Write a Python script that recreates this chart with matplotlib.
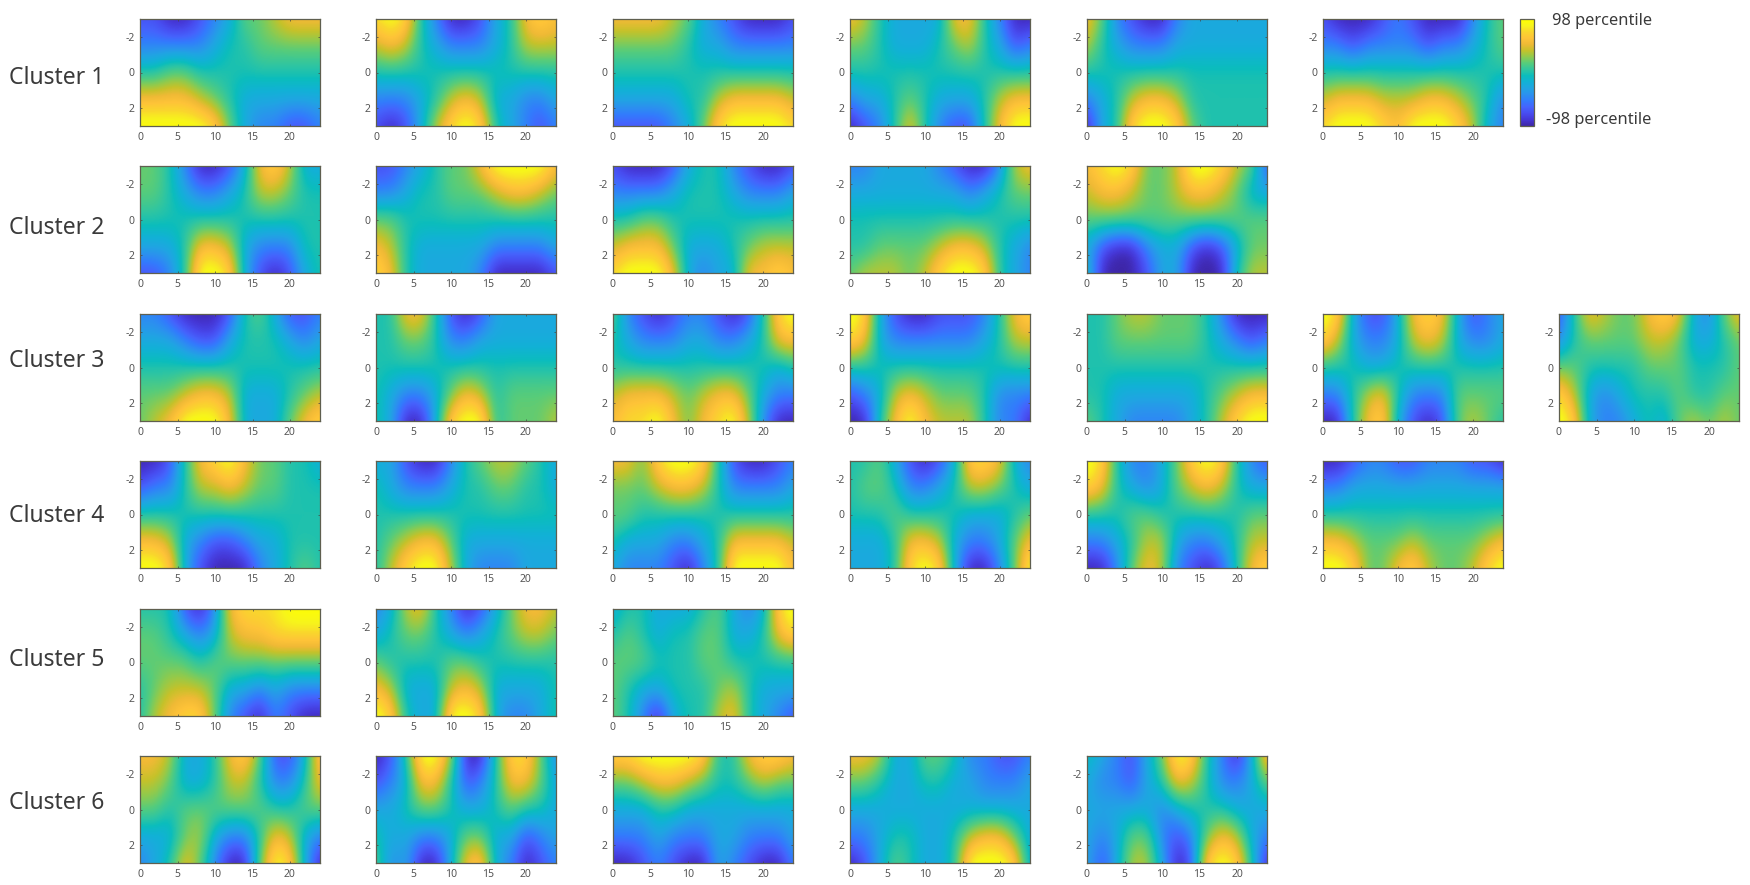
import matplotlib
matplotlib.use("Agg")
import matplotlib.pyplot as plt
import numpy as np
from matplotlib.cm import ScalarMappable
from matplotlib.colors import LinearSegmentedColormap, Normalize, TwoSlopeNorm

plt.rcParams["font.family"] = ["Noto Sans", "DejaVu Sans"]
plt.rcParams["axes.unicode_minus"] = False

hours = [0, 2, 4, 6, 8, 10, 12, 14, 16, 18, 20, 22, 24]
levels = [-3, -1.5, 0, 1.5, 3]
x_ticks = [0, 5, 10, 15, 20]
y_ticks = [-2, 0, 2]

# panel values on a 0 (dark) to 9 (yellow) scale
cluster1 = [
    [[1,1,0,0,1,2,3,5,5,6,7,7,7],
     [2,2,2,2,2,3,4,4,5,5,5,5,5],
     [4,4,5,5,4,4,4,4,4,4,4,4,4],
     [7,7,7,7,6,5,4,3,3,3,3,3,3],
     [9,9,9,9,9,8,5,3,2,2,1,1,2]],
    [[8,9,8,4,2,0,0,1,3,4,7,8,7],
     [6,7,6,4,3,2,2,2,3,4,6,6,6],
     [4,4,4,4,4,4,4,4,4,4,4,4,4],
     [2,2,2,3,4,6,7,6,3,3,2,2,3],
     [1,0,1,3,6,8,9,8,4,3,2,1,2]],
    [[7,7,7,7,6,5,3,2,1,0,0,0,1],
     [5,5,5,5,5,4,3,3,2,2,2,2,2],
     [4,4,4,4,4,4,4,4,4,4,4,4,4],
     [3,3,3,3,3,4,4,6,7,7,7,7,6],
     [1,1,1,1,2,3,5,8,9,9,9,9,8]],
    [[7,6,4,3,3,3,3,7,7,4,2,0,0],
     [5,5,4,3,3,3,4,5,6,4,3,1,2],
     [4,4,4,4,4,4,4,4,4,4,4,4,4],
     [2,3,3,4,5,4,3,3,3,4,6,7,7],
     [0,1,2,4,7,4,2,1,1,4,7,9,9]],
    [[7,5,2,1,0,0,2,3,3,3,3,3,3],
     [6,4,3,2,2,2,3,3,3,3,3,3,3],
     [4,4,4,4,4,4,4,4,4,4,4,4,4],
     [2,3,4,6,7,7,6,4,4,4,4,4,4],
     [0,3,4,8,9,9,8,5,4,4,4,4,4]],
    [[1,0,0,0,1,2,1,0,0,0,2,4,5],
     [2,2,1,2,2,2,2,1,2,2,3,4,5],
     [4,4,4,4,4,4,4,4,4,4,4,4,4],
     [6,7,7,7,6,6,6,7,7,6,5,4,2],
     [8,9,9,9,8,7,9,9,9,8,6,3,2]],
]
cluster2 = [
    [[5,5,4,2,0,0,1,3,7,8,6,3,3],
     [5,5,4,3,2,2,3,4,6,6,5,4,4],
     [4,4,4,4,4,4,4,4,4,4,4,4,4],
     [3,3,3,4,7,7,6,3,2,2,2,4,4],
     [1,1,2,4,9,9,8,3,1,0,1,3,4]],
    [[1,1,2,3,4,5,5,7,9,9,9,9,7],
     [2,2,3,4,4,5,5,5,6,7,7,6,5],
     [5,5,4,4,4,4,4,4,4,4,4,4,4],
     [7,6,4,3,3,3,3,3,2,2,2,2,3],
     [8,7,4,3,3,3,3,2,0,0,0,0,1]],
    [[1,0,0,0,1,3,4,4,2,1,0,0,1],
     [2,2,2,2,3,4,4,4,3,2,2,2,3],
     [4,4,5,5,4,4,4,4,4,4,4,4,4],
     [6,7,7,7,5,3,3,3,4,5,6,6,6],
     [8,9,9,9,7,3,2,3,3,7,7,8,7]],
    [[2,2,3,3,3,3,2,1,0,0,2,6,7],
     [3,3,3,3,3,3,3,3,2,3,4,5,5],
     [4,4,4,4,4,4,4,4,4,4,4,4,4],
     [4,4,5,5,5,5,6,7,7,6,4,3,2],
     [5,6,6,6,5,6,8,9,9,8,4,3,2]],
    [[7,8,9,8,5,5,6,9,9,8,6,5,1],
     [6,7,7,6,5,5,6,7,7,6,5,3,3],
     [5,5,5,5,5,5,5,5,5,5,5,5,5],
     [3,1,0,0,2,3,3,1,0,1,3,5,5],
     [4,0,0,0,1,3,3,0,0,0,4,6,6]],
]
cluster3 = [
    [[2,2,1,0,0,0,1,4,5,3,1,1,2],
     [3,3,3,2,1,1,3,4,4,4,3,2,3],
     [4,4,4,4,4,4,4,4,4,4,4,4,4],
     [5,5,5,6,7,7,6,3,3,3,4,5,6],
     [5,6,7,9,9,9,7,3,3,3,5,7,8]],
    [[4,4,7,7,4,1,0,1,3,3,3,3,3],
     [4,4,5,5,4,2,2,3,3,3,3,3,3],
     [4,4,4,4,4,4,4,4,4,4,4,4,4],
     [4,3,2,2,3,5,7,6,4,5,5,5,5],
     [4,3,0,0,3,8,9,9,4,5,5,5,6]],
    [[5,2,1,0,1,2,2,1,0,1,4,8,9],
     [4,3,2,2,2,3,3,2,2,3,4,7,7],
     [4,4,4,4,4,4,4,4,4,4,4,3,4],
     [6,7,7,7,6,5,6,7,7,5,3,2,2],
     [7,8,8,9,7,5,7,8,9,6,2,0,0]],
    [[9,8,3,1,0,0,1,1,1,2,4,7,8],
     [8,7,3,2,2,2,2,2,2,3,4,6,6],
     [4,4,4,4,4,4,4,4,4,4,4,4,4],
     [1,2,3,6,7,6,5,5,5,4,2,2,2],
     [0,0,4,7,9,7,6,6,6,4,2,2,0]],
    [[4,4,5,6,6,5,5,5,4,2,0,0,0],
     [4,4,5,5,5,5,5,5,4,3,2,1,2],
     [4,4,4,4,4,4,4,4,4,4,4,4,4],
     [4,4,3,3,3,3,3,3,4,5,6,7,7],
     [5,4,3,2,2,2,2,3,4,6,8,9,9]],
    [[9,8,3,1,1,3,7,8,7,3,1,2,3],
     [8,6,3,2,2,3,6,7,6,3,2,2,3],
     [4,4,4,3,3,4,4,4,4,4,4,4,4],
     [2,2,4,6,7,4,2,2,2,5,5,5,5],
     [0,0,4,7,8,3,1,0,1,5,6,5,4]],
    [[1,4,7,6,5,5,7,8,7,3,2,5,7],
     [2,4,5,5,5,5,6,6,5,3,3,4,5],
     [5,5,4,4,4,4,5,5,5,4,4,4,5],
     [8,6,3,2,3,4,4,4,5,4,4,5,5],
     [9,8,3,2,2,3,4,3,5,6,5,6,5]],
]
cluster4 = [
    [[0,0,1,4,7,8,9,7,5,5,4,4,3],
     [1,2,2,4,6,6,7,6,5,5,4,4,4],
     [4,4,4,4,4,4,4,4,4,4,4,4,4],
     [7,7,6,3,2,1,1,2,3,3,4,4,4],
     [9,9,8,3,1,0,0,0,2,3,4,5,4]],
    [[3,3,1,0,0,2,4,5,6,6,5,4,3],
     [4,3,2,2,2,3,4,4,5,5,4,4,3],
     [4,4,4,4,4,4,4,4,4,4,4,4,4],
     [4,5,6,7,7,5,3,3,3,3,3,3,3],
     [4,6,8,9,9,6,3,2,2,2,3,3,3]],
    [[7,7,5,8,9,9,8,4,1,0,0,1,2],
     [5,5,5,6,7,7,6,4,2,2,2,2,3],
     [5,5,4,4,4,4,4,4,4,4,4,4,4],
     [4,3,3,3,2,2,3,4,7,7,7,7,6],
     [3,2,2,2,1,0,2,4,9,9,9,9,7]],
    [[4,4,5,3,1,0,1,3,8,8,7,3,2],
     [4,5,5,4,2,2,3,4,6,6,5,4,3],
     [4,4,4,5,4,4,4,4,3,3,3,4,5],
     [3,3,3,4,7,7,6,3,2,2,3,5,7],
     [3,3,3,4,8,9,8,3,0,0,2,5,9]],
    [[9,8,4,2,2,3,5,8,9,8,4,2,1],
     [8,7,4,3,2,3,5,6,7,6,4,3,3],
     [4,4,4,5,5,4,4,4,4,4,4,5,5],
     [2,2,3,4,6,6,3,2,2,3,4,6,6],
     [0,0,2,5,7,6,2,1,0,1,4,7,8]],
    [[0,0,1,2,2,1,1,2,2,2,1,1,0],
     [2,2,3,3,3,3,3,3,3,3,3,3,3],
     [4,4,4,4,4,4,4,4,4,4,4,4,4],
     [7,7,6,5,5,5,6,5,5,5,5,6,7],
     [9,9,8,5,5,7,8,6,5,5,6,8,9]],
]
cluster5 = [
    [[4,4,4,1,0,2,7,8,8,8,9,9,9],
     [5,5,4,3,2,3,6,7,7,8,8,8,8],
     [5,5,5,5,4,5,5,5,5,5,5,5,5],
     [4,5,6,6,6,5,3,3,2,3,2,2,2],
     [4,6,7,8,8,5,2,1,0,2,1,0,0]],
    [[2,3,6,7,4,2,0,1,3,5,7,7,6],
     [3,4,5,5,4,3,2,3,4,5,6,6,5],
     [5,4,4,4,4,5,5,4,4,4,4,4,4],
     [7,6,3,3,3,6,7,6,3,3,3,3,4],
     [9,8,4,3,3,9,9,8,3,2,2,3,4]],
    [[3,4,4,3,3,3,4,5,3,2,3,8,9],
     [4,5,4,3,4,4,5,5,3,3,4,7,8],
     [5,5,5,4,4,4,5,5,4,4,4,4,4],
     [5,4,3,3,4,4,4,5,6,4,3,3,3],
     [5,4,2,0,3,4,4,6,7,4,3,2,1]],
]
cluster6 = [
    [[7,7,6,3,3,4,7,8,5,1,1,3,8],
     [6,6,5,3,3,4,6,6,4,2,2,4,7],
     [5,5,4,5,5,5,5,5,5,4,4,5,5],
     [3,3,3,5,6,3,2,2,4,7,6,3,2],
     [2,3,4,7,5,2,0,0,5,9,8,3,0]],
    [[0,1,4,9,9,6,0,0,4,8,8,5,2],
     [1,2,3,7,7,4,1,2,4,7,7,5,3],
     [3,3,4,5,5,4,3,3,4,5,4,4,3],
     [4,3,3,2,2,3,5,5,3,3,1,2,3],
     [5,2,3,0,0,3,7,8,3,2,0,1,2]],
    [[8,8,9,9,9,9,8,4,4,7,8,8,7],
     [5,5,6,7,7,6,5,4,4,5,6,5,5],
     [3,3,3,4,4,3,3,3,3,3,3,3,3],
     [2,2,2,3,2,2,2,3,3,2,2,2,3],
     [0,0,1,2,1,0,0,3,2,1,0,0,2]],
    [[7,7,6,3,3,5,5,4,2,2,1,1,2],
     [5,5,4,3,3,4,4,3,3,2,2,2,3],
     [3,3,3,3,3,3,3,3,3,3,3,3,3],
     [2,2,3,4,4,3,3,4,6,7,7,5,3],
     [0,1,3,5,4,3,3,4,9,9,9,8,3]],
    [[4,3,2,1,3,5,9,8,4,2,0,3,8],
     [3,2,2,1,3,4,7,6,4,2,2,3,5],
     [3,3,3,3,3,2,3,4,4,4,3,3,3],
     [3,2,3,5,5,2,1,2,5,7,6,3,2],
     [3,1,3,6,6,3,0,1,8,9,8,4,0]],
]
clusters = [cluster1, cluster2, cluster3, cluster4, cluster5, cluster6]
cluster_names = ["Cluster 1", "Cluster 2", "Cluster 3", "Cluster 4", "Cluster 5", "Cluster 6"]

parula_colors = [
    (0.2422, 0.1504, 0.6603), (0.2706, 0.2147, 0.8364), (0.2813, 0.3006, 0.9414),
    (0.2699, 0.3892, 0.9906), (0.1963, 0.4847, 0.9892), (0.1687, 0.5703, 0.9359),
    (0.1248, 0.6459, 0.8883), (0.0689, 0.6948, 0.8394), (0.0433, 0.7411, 0.7394),
    (0.1938, 0.7758, 0.6251), (0.3406, 0.8008, 0.4789), (0.5616, 0.7942, 0.3045),
    (0.7738, 0.7598, 0.1646), (0.9393, 0.7288, 0.2100), (0.9970, 0.7659, 0.2199),
    (0.9786, 0.8386, 0.1766), (0.9691, 0.9606, 0.1064), (1.0, 1.0, 0.0),
]
parula = LinearSegmentedColormap.from_list("parula", parula_colors)
# teal sits at digit 4 on the reading scale
norm = TwoSlopeNorm(vmin=0, vcenter=4, vmax=9)

W, H = 1750, 885
col_left = [140, 376, 613, 850, 1087, 1323, 1559]
row_top = [19, 166, 314, 461, 609, 756]
row_label_y = [78, 228, 361, 516, 660, 803]
panel_w, panel_h = 180, 107
edge = "#5f5f4f"
tick_grey = "#555555"

fig = plt.figure(figsize=(W / 100, H / 100), dpi=100)


def add_px_axes(left, top, w, h):
    return fig.add_axes([left / W, 1 - (top + h) / H, w / W, h / H])


half_x = (hours[1] - hours[0]) / 2
half_y = (levels[1] - levels[0]) / 2
extent = [hours[0] - half_x, hours[-1] + half_x, levels[-1] + half_y, levels[0] - half_y]

for r, panels in enumerate(clusters):
    fig.text(9 / W, 1 - row_label_y[r] / H, cluster_names[r], fontsize=16.5,
             color="#3a3a3a", va="center", ha="left")
    for c, values in enumerate(panels):
        ax = add_px_axes(col_left[c], row_top[r], panel_w, panel_h)
        ax.imshow(np.array(values), cmap=parula, norm=norm, aspect="auto", extent=extent,
                  interpolation="bicubic")
        ax.set_xlim(0, 24)
        ax.set_ylim(3, -3)
        ax.set_xticks(x_ticks)
        ax.set_yticks(y_ticks)
        ax.tick_params(direction="in", length=1.5, width=0.5, top=True, right=True,
                       color="#444444", labelsize=7.5, labelcolor=tick_grey, pad=4)
        for s in ax.spines.values():
            s.set_color(edge)
            s.set_linewidth(0.9)

cax = add_px_axes(1520, 19, 14, 107)
cb = fig.colorbar(ScalarMappable(norm=Normalize(0, 1), cmap=parula), cax=cax)
cb.set_ticks([])
cb.outline.set_edgecolor(edge)
cb.outline.set_linewidth(0.9)

fig.text(1552 / W, 1 - 21 / H, "98 percentile", fontsize=11.8, color="#3a3a3a", va="center", ha="left")
fig.text(1546 / W, 1 - 120 / H, "-98 percentile", fontsize=11.8, color="#3a3a3a", va="center", ha="left")

fig.savefig("out.png", dpi=100)
plt.close()
